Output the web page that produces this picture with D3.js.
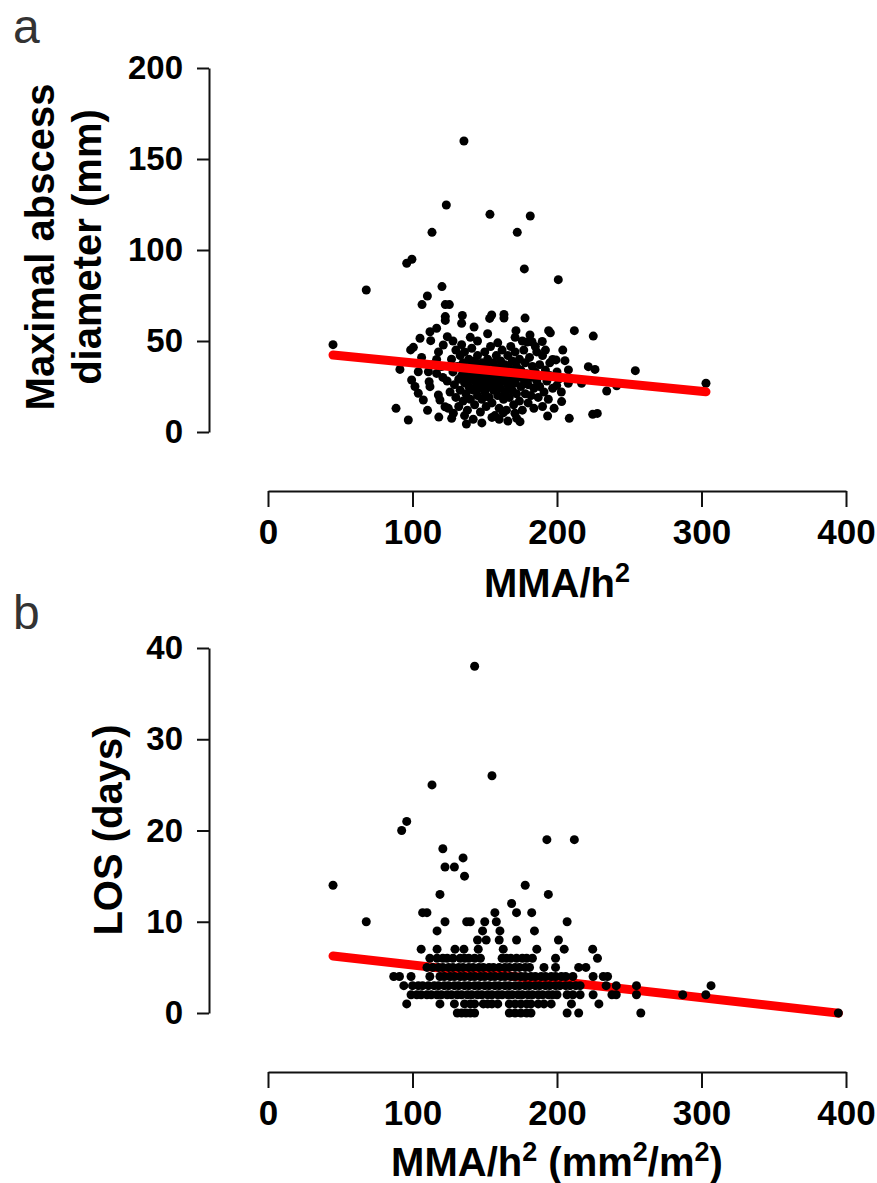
<!DOCTYPE html>
<html>
<head>
<meta charset="utf-8">
<script src="https://cdn.jsdelivr.net/npm/d3@7"></script>
<style>
  body { margin: 0; background: #fff; }
  svg text { font-family: "Liberation Sans", Arial, Helvetica, sans-serif; }
</style>
</head>
<body>
<div id="chart"></div>
<script>
// panel a: MMA/h2 vs maximal abscess diameter (mm)
var abscessPts = [
    [45,48],[68,78],[88.6,13],[91.3,34.4],[97.1,6.6],[96,92.7],[99.6,94.9],[113.5,109.7],[123.4,124.7],
    [135.6,159.9],[153.6,119.6],[181.5,118.7],[172.5,109.7],[177.4,89.6],[200.9,83.7],[120.4,79.9],
    [110.3,74.7],[106.6,70],[122.7,70],[125.5,70],[122.7,63.4],[122.7,61.3],[134.5,64],[134,59.7],
    [142.6,57.7],[154.8,64.3],[153.4,62.4],[163.3,64.6],[163.3,62.6],[177.9,62.6],[171.6,55.7],
    [181.3,53.3],[182.7,49.6],[179.4,49.4],[194.2,55.7],[195.4,54.5],[189.8,49.7],[212,55.7],
    [225.1,52.7],[254.2,33.7],[303.1,26.8],[221.7,35.9],[226.3,34.4],[205.5,39.2],[207.9,34.1],
    [197,39.9],[199.3,39.6],[199.8,25.5],[207.8,26.8],[217,26.8],[234.4,22.5],[241.3,25.4],
    [203.2,16.7],[193.5,8.8],[208.5,7.5],[224.7,9.7],[227.9,10.2],[162.8,10.6],[174.4,5.7],
    [170.9,10.3],[172.1,7.5],[116.7,57],[112.1,55.1],[105.2,51.5],[112.6,50.2],[124.1,52.4],
    [100.6,46.5],[98.7,45.1],[121.3,47.8],[106.3,41],[116.7,39.9],[104,33.1],[111,33.1],[116.7,32.2],
    [99.4,28.6],[101.7,25],[104,21.3],[107.5,17.6],[111.5,27.6],[112.1,24.9],[117.9,20.3],[119,17.6],
    [110.4,11.9],[118.2,8.2],[124.8,13],[128.3,10.3],[127.1,7.5],[137.3,4.4],[122.5,13.9],
    [127,40],[128,33],[129,26],[130,45],[130,19],[131,36],[132,29],[132,14],[133,42],[133,23],
    [134,31],[135,38],[135,17],[136,27],[136,44],[137,21],[137,34],[138,30],[138,12],[139,40],
    [139,25],[140,36],[140,18],[141,29],[141,46],[142,23],[142,33],[143,39],[143,15],[144,27],
    [144,31],[145,20],[145,42],[146,35],[146,24],[147,29],[147,11],[148,38],[148,18],[149,32],
    [149,26],[150,44],[150,22],[151,36],[151,14],[152,29],[152,40],[153,25],[153,19],[154,33],
    [154,47],[155,28],[155,16],[156,38],[156,23],[157,31],[157,9],[158,42],[158,26],[159,20],
    [159,35],[160,29],[160,13],[161,39],[161,24],[162,33],[162,45],[163,18],[163,28],[164,37],
    [164,22],[165,31],[165,12],[166,42],[166,26],[167,35],[167,19],[168,29],[168,47],[169,23],
    [169,39],[170,32],[170,15],[171,27],[171,44],[172,36],[172,21],[173,30],[174,40],[174,17],
    [175,25],[175,34],[176,12],[177,29],[177,45],[178,38],[178,21],[179,32],[180,26],[180,16],
    [181,41],[182,30],[182,20],[183,36],[184,24],[184,13],[185,33],[186,44],[186,28],[187,19],
    [188,37],[188,25],[189,31],[190,14],[190,42],[191,22],[192,34],[193,28],[194,18],[195,38],
    [195,31],[197,24],[198,13],[200,33],[201,29],[203,22],[204,45],[136,9],[142,7],[148,5],
    [155,8],[166,6],[160,7],[134,48],[145,50],[159,49],[171,52],[152,54],[176,50],[185,47],
    [192,45],[128,50],[140,52],[120,36],[124,28],[118,44],[126,22],[114,37],[121,30]
];

// panel b: MMA/h2 vs length of stay (days)
var losPts = [
    [143,38],[155,26],[113.5,25],[96,21],[92.5,20],[193,19],[212,19],[121,18],[135,17],
    [122.5,16],[129,16],[136,15],[45,14],[178,14],[119,13],[194,13],[168.6,12],
    [107,11],[110,11],[157,11],[172,11],[182.5,11],
    [68,10],[122.5,10],[137.5,10],[140,10],[150,10],[158,10],[207,10],
    [117,9],[148.5,9],[160.5,9],[184.4,9],
    [145,8],[151,8],[160,8],[172,8],[201,8],
    [106,7],[117,7],[129.4,7],[135.6,7],[145.5,7],[162.8,7],[186,7],[205,7],[224.7,7],
    [112,6],[117,6],[121,6],[124,6],[128,6],[133,6],[136,6],[139,6],[143,6],[147,6],[162,6],
    [165,6],[168,6],[172,6],[176,6],[179,6],[183,6],[199,6],[228,6],
    [110,5],[114,5],[118,5],[121,5],[125,5],[128,5],[132,5],[135,5],[139,5],[142,5],[146,5],
    [149,5],[153,5],[156,5],[160,5],[164,5],[167,5],[171,5],[174,5],[178,5],[181,5],[191,5],
    [199,5],[215,5],[220,5],
    [87,4],[91,4],[99,4],[112,4],[119,4],[122,4],[126,4],[129,4],[133,4],[136,4],[140,4],
    [143,4],[147,4],[150,4],[154,4],[157,4],[161,4],[164,4],[168,4],[171,4],[175,4],[178,4],
    [182,4],[185,4],[189,4],[192,4],[196,4],[199,4],[203,4],[206,4],[211,4],[225,4],[232,4],[235,4],
    [94,3],[100,3],[104,3],[107,3],[111,3],[115,3],[118,3],[122,3],[125,3],[129,3],[132,3],
    [136,3],[139,3],[143,3],[146,3],[150,3],[153,3],[157,3],[160,3],[164,3],[167,3],[171,3],
    [174,3],[178,3],[181,3],[185,3],[188,3],[192,3],[195,3],[199,3],[202,3],[206,3],[209,3],
    [213,3],[216,3],[234,3],[241,3],[255,3],[306.6,3],
    [99,2],[103,2],[106,2],[110,2],[113,2],[117,2],[120,2],[124,2],[127,2],[131,2],[134,2],
    [138,2],[141,2],[145,2],[148,2],[152,2],[155,2],[159,2],[162,2],[166,2],[169,2],[173,2],
    [176,2],[180,2],[183,2],[187,2],[190,2],[194,2],[197,2],[200,2],[207,2],[211,2],[216,2],
    [225,2],[238,2],[241,2],[255,2],[287,2],[303,2],
    [96,1],[119,1],[129,1],[136,1],[140,1],[143,1],[149,1],[152,1],[155,1],[159,1],[167,1],
    [171,1],[175,1],[179,1],[182,1],[187,1],[191,1],[196,1],[210,1],[229,1],
    [131,0],[134,0],[137,0],[140,0],[143,0],[167,0],[171,0],[175,0],[179,0],[182,0],[207,0],
    [215,0],[258,0],[394.7,0]
];

var xTicks = [0, 100, 200, 300, 400];
var abscessTicks = [0, 50, 100, 150, 200];
var losTicks = [0, 10, 20, 30, 40];

// linear fits as drawn in the figure
var abscessFit = {slope: -0.0782, intercept: 45.8};
var losFit = {slope: -0.0179, intercept: 7.05};

var W = 877, H = 1183;
var svg = d3.select("#chart").append("svg")
    .attr("width", W).attr("height", H)
    .attr("xmlns", "http://www.w3.org/2000/svg");

function styleAxis(g, size) {
    g.attr("font-size", size).attr("font-weight", "bold")
        .attr("font-family", '"Liberation Sans", Arial, sans-serif');
    g.selectAll("path, line").attr("stroke", "#111").attr("stroke-width", 2);
    g.selectAll("text").attr("fill", "#000");
}

function addSup(text, parts) {
    // parts: [string, isSup]
    var up = false;
    parts.forEach(function(p) {
        var t = text.append("tspan").text(p[0]);
        if (p[1] && !up) { t.attr("dy", -15).attr("font-size", 27); up = true; }
        else if (p[1]) { t.attr("font-size", 27); }
        else if (!p[1] && up) { t.attr("dy", 15); up = false; }
    });
}

function drawPanel(o) {
    var x = d3.scaleLinear().domain([0, 400]).range([268, 846]);
    var y = d3.scaleLinear().domain([0, o.yMax]).range([o.y0, o.y1]);

    //y axis
    var gy = svg.append("g").attr("transform", "translate(209,0)")
        .call(d3.axisLeft(y).tickValues(o.yTicks).tickSize(12).tickSizeOuter(0).tickPadding(14));
    styleAxis(gy, 33);

    //x axis
    var gx = svg.append("g").attr("transform", "translate(0," + o.xAxisY + ")")
        .call(d3.axisBottom(x).tickValues(xTicks).tickSize(16).tickSizeOuter(0).tickPadding(12));
    styleAxis(gx, 35);

    var ext = d3.extent(o.data, function(d) { return d[0]; });
    var fitLine = function(g) {
        g.append("line")
            .attr("x1", x(ext[0])).attr("y1", y(o.fit.intercept + o.fit.slope * ext[0]))
            .attr("x2", x(ext[1])).attr("y2", y(o.fit.intercept + o.fit.slope * ext[1]))
            .attr("stroke", "#ff0000").attr("stroke-width", 9).attr("stroke-linecap", "round");
    };

    var body = svg.append("g").attr("class", "chart-area");
    if (!o.lineOnTop) fitLine(body);
    body.selectAll("circle").data(o.data).enter().append("circle")
        .attr("cx", d => x(d[0]))
        .attr("cy", d => y(d[1]))
        .attr("r", 4.5)
        .attr("fill", "#000");
    if (o.lineOnTop) fitLine(body);

    // panel letter
    svg.append("text").attr("x", 13).attr("y", o.letterY)
        .attr("font-size", 48).attr("fill", "#333").text(o.letter);

    // y title
    o.yTitle.forEach(function(t) {
        svg.append("text")
            .attr("transform", "translate(" + t[1] + "," + o.yTitleY + ") rotate(-90)")
            .attr("text-anchor", "middle").attr("font-size", 40).attr("font-weight", "bold")
            .text(t[0]);
    });

    // x title
    var xt = svg.append("text").attr("x", 557).attr("y", o.xTitleY)
        .attr("text-anchor", "middle").attr("font-size", 40).attr("font-weight", "bold");
    addSup(xt, o.xTitle);
}

drawPanel({
    data: abscessPts, yMax: 200, yTicks: abscessTicks, y0: 432, y1: 68, xAxisY: 491,
    fit: abscessFit, lineOnTop: true, letter: "a", letterY: 43,
    yTitle: [["Maximal abscess", 54], ["diameter (mm)", 101]], yTitleY: 247,
    xTitle: [["MMA/h", false], ["2", true]], xTitleY: 597
});

drawPanel({
    data: losPts, yMax: 40, yTicks: losTicks, y0: 1013, y1: 648, xAxisY: 1072,
    fit: losFit, lineOnTop: false, letter: "b", letterY: 629,
    yTitle: [["LOS (days)", 122]], yTitleY: 830,
    xTitle: [["MMA/h", false], ["2", true], [" (mm", false], ["2", true], ["/m", false], ["2", true], [")", false]],
    xTitleY: 1176
});
</script>
</body>
</html>
